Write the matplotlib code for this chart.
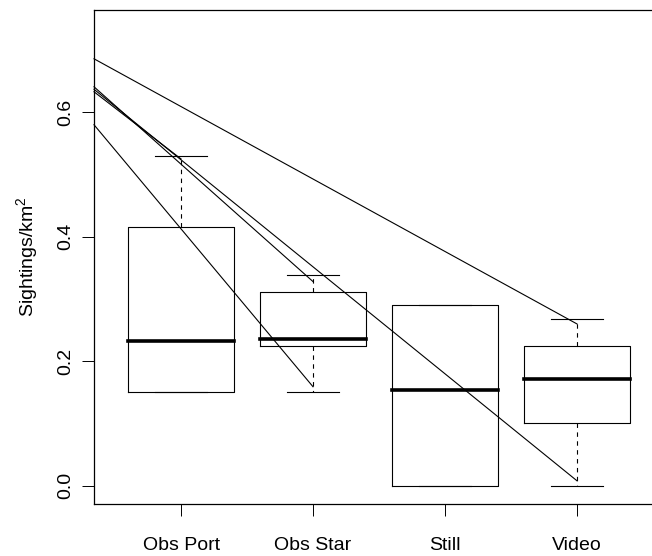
import matplotlib
matplotlib.use('Agg')
import matplotlib.pyplot as plt

# sightings per km2 by survey method
groups = ['Obs Port', 'Obs Star', 'Still', 'Video']
whis_lo = [0.151, 0.151, 0.0, 0.0]
q1 = [0.151, 0.224, 0.0, 0.101]
medians = [0.232, 0.236, 0.154, 0.171]
q3 = [0.415, 0.312, 0.291, 0.225]
whis_hi = [0.530, 0.338, 0.291, 0.268]

# trend segments: value at the left edge -> value at a method
trend_from = [0.686, 0.641, 0.637, 0.633, 0.580]
trend_to = [0.260, 0.328, 0.008, 0.525, 0.159]
trend_group = ['Video', 'Obs Star', 'Video', 'Obs Port', 'Obs Star']

plt.rcParams['font.family'] = ['Liberation Sans', 'DejaVu Sans']
plt.rcParams['mathtext.fontset'] = 'custom'
plt.rcParams['mathtext.rm'] = 'Liberation Sans'
plt.rcParams['mathtext.it'] = 'Liberation Sans'

fig = plt.figure(figsize=(6.52, 5.56), dpi=100)
ax = fig.add_axes([94 / 652, 52 / 556, 570 / 652, 494 / 556])

xlim = (0.34, 4.66)
ax.set_xlim(*xlim)
ax.set_ylim(-0.0294, 0.7644)

stats = []
for i, g in enumerate(groups):
    stats.append({'label': g, 'whislo': whis_lo[i], 'q1': q1[i], 'med': medians[i],
                  'q3': q3[i], 'whishi': whis_hi[i], 'fliers': []})

pos = list(range(1, len(groups) + 1))
ax.bxp(stats, positions=pos, widths=0.8, showfliers=False,
       boxprops=dict(color='black', lw=0.8),
       whiskerprops=dict(color='black', lw=0.8, linestyle=(0, (4, 4))),
       capprops=dict(color='black', lw=0.8),
       medianprops=dict(color='black', lw=2.6, solid_capstyle='projecting'))

for a, b, g in zip(trend_from, trend_to, trend_group):
    ax.plot([xlim[0], pos[groups.index(g)]], [a, b], color='black', lw=0.8, clip_on=False)

ax.set_xticks(pos)
ax.set_xticklabels(groups)
ax.set_yticks([0.0, 0.2, 0.4, 0.6])
ax.set_yticklabels(['0.0', '0.2', '0.4', '0.6'], rotation=90, va='center')
ax.tick_params(direction='out', length=8.5, width=0.7, labelsize=14, colors='black')
ax.tick_params(axis='x', pad=15)
ax.tick_params(axis='y', pad=6)
ax.set_ylabel('Sightings/km$^2$', fontsize=14, labelpad=12)

for s in ax.spines.values():
    s.set_linewidth(0.9)

fig.savefig('out.png', dpi=100)
